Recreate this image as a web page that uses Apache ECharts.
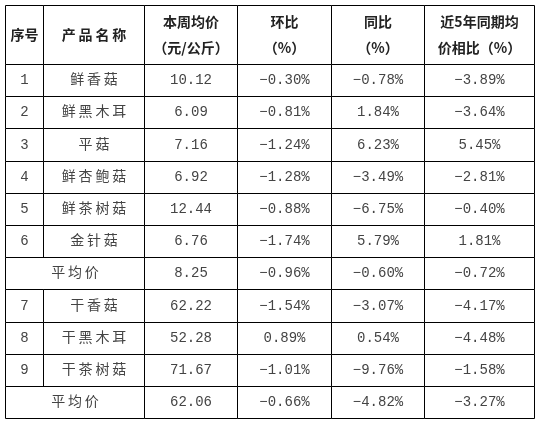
<!DOCTYPE html><html><head><meta charset="utf-8">
<script src="https://cdn.jsdelivr.net/npm/echarts@6/dist/echarts.min.js"></script>
<style>html,body{margin:0;padding:0;background:#fff}#c{width:538px;height:423px}</style></head><body><div id="c"></div>
<script>
var headers = ['序号','产品名称','本周均价\n（元/公斤）','环比\n（%）','同比\n（%）','近5年同期均\n价相比（%）'];
var seq = ['1','2','3','4','5','6','','7','8','9',''];
var names = ['鲜香菇','鲜黑木耳','平菇','鲜杏鲍菇','鲜茶树菇','金针菇','平均价','干香菇','干黑木耳','干茶树菇','平均价'];
var price = ['10.12','6.09','7.16','6.92','12.44','6.76','8.25','62.22','52.28','71.67','62.06'];
var hb = ['-0.30%','-0.81%','-1.24%','-1.28%','-0.88%','-1.74%','-0.96%','-1.54%','0.89%','-1.01%','-0.66%'];
var tb = ['-0.78%','1.84%','6.23%','-3.49%','-6.75%','5.79%','-0.60%','-3.07%','0.54%','-9.76%','-4.82%'];
var wn = ['-3.89%','-3.64%','5.45%','-2.81%','-0.40%','1.81%','-0.72%','-4.17%','-4.48%','-1.58%','-3.27%'];

var colEdges = [5.5,43.5,144.5,237.5,331.5,424.5,534.5];
var rowEdges = [5.5,64.5];
for (var i=1;i<=11;i++) rowEdges.push(Math.round(64+i*32.2)+0.5);
var cells = [];
headers.forEach(function(h,c){cells.push([c,c+1,0,h,1]);});
for (var r=0;r<names.length;r++){
  var isAvg = names[r]==='平均价';
  if (isAvg) cells.push([0,2,r+1,names[r],0]);
  else { cells.push([0,1,r+1,seq[r],0]); cells.push([1,2,r+1,names[r],0]); }
  cells.push([2,3,r+1,price[r],0]);
  [hb,tb,wn].forEach(function(a,k){cells.push([3+k,4+k,r+1,a[r].replace('-','−'),0]);});
}
var chart = echarts.init(document.getElementById('c'));
chart.setOption({
  animation:false,
  grid:{left:0,right:0,top:0,bottom:0},
  xAxis:{type:'value',min:0,max:538,show:false},
  yAxis:{type:'value',min:0,max:423,inverse:true,show:false},
  series:[{type:'custom',data:cells,renderItem:function(p,api){
    var c0=api.value(0),c1=api.value(1),r=api.value(2);
    var d=cells[p.dataIndex];
    var a=api.coord([colEdges[c0],rowEdges[r]]),b=api.coord([colEdges[c1],rowEdges[r+1]]);
    var bold=d[4]===1;
    var txt=d[3];
    if(!bold && /[\u4e00-\u9fff]/.test(txt)) txt=txt.split('').join('\u2009');
    if(bold && txt==='产品名称') txt='产\u2009品\u2009名\u2009称';
    return {type:'group',children:[
      {type:'rect',shape:{x:a[0],y:a[1],width:b[0]-a[0],height:b[1]-a[1]},style:{fill:'#fff',stroke:'#000',lineWidth:1}},
      {type:'text',style:{x:(a[0]+b[0])/2,y:(a[1]+b[1])/2,text:txt,align:'center',verticalAlign:'middle',
        fill:bold?'#222':'#444',fontSize:14,fontWeight:bold?'bold':'normal',lineHeight:26,
        fontFamily:bold?'"Noto Sans CJK SC"':'"Liberation Mono","Noto Sans CJK SC"'}}
    ]};
  }}]
});
</script></body></html>
